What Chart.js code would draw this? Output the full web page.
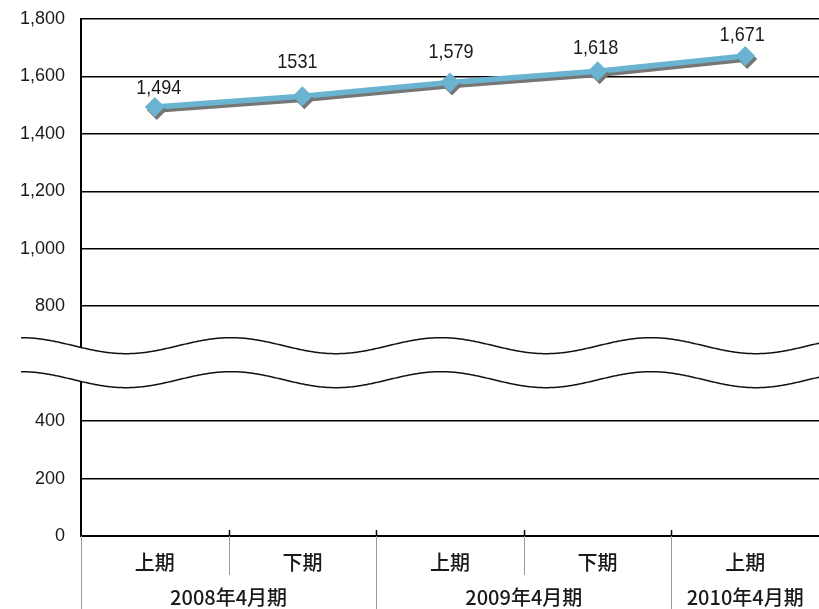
<!DOCTYPE html>
<html>
<head>
<meta charset="utf-8">
<script src="https://cdn.jsdelivr.net/npm/chart.js@4/dist/chart.umd.min.js"></script>
<style>
  html, body { margin: 0; padding: 0; background: #ffffff; }
  canvas { display: block; }
</style>
</head>
<body>
<canvas id="chart" width="819" height="609"></canvas>
<script>
// Half-year periods and the fiscal years they belong to
const halves = ['上期', '下期', '上期', '下期', '上期'];
const fiscalYears = ['2008年4月期', '2009年4月期', '2010年4月期'];
const fiscalSpans = [2, 2, 1];

// Series values and the text printed above each point
const staffCount = [1494, 1531, 1579, 1618, 1671];
const pointLabels = ['1,494', '1531', '1,579', '1,618', '1,671'];

// Value axis ticks; the axis is broken at breakValue
const yTicks = [0, 200, 400, 600, 800, 1000, 1200, 1400, 1600, 1800];
const breakValue = 600;

const LINE_BLUE = '#6ab4d1';
const TEXT = '#1a1a1a';
const NUM_FONT = "'Liberation Sans', Arial, sans-serif";
const LABEL_FONT = "'Liberation Sans', Arial, sans-serif";
const JP_FONT = "'Noto Sans CJK JP', 'Noto Sans', sans-serif";

// Drop shadow under the line and markers
const lineShadow = {
  id: 'lineShadow',
  beforeDatasetsDraw(chart) {
    const c = chart.ctx;
    c.save();
    c.shadowColor = '#767676';
    c.shadowOffsetX = 2;
    c.shadowOffsetY = 3;
    c.shadowBlur = 0.5;
  },
  afterDatasetsDraw(chart) {
    chart.ctx.restore();
  }
};

// Two-row category axis: half-year labels and fiscal-year groups with dividers
const groupedAxis = {
  id: 'groupedAxis',
  afterDraw(chart) {
    const c = chart.ctx;
    const x = chart.scales.x;
    const area = chart.chartArea;
    const step = x.getPixelForValue(1) - x.getPixelForValue(0);
    const edge = i => x.getPixelForValue(i) - step / 2;

    const groupEdges = new Set([0]);
    let acc = 0;
    fiscalSpans.forEach(s => { acc += s; groupEdges.add(acc); });

    c.save();
    for (let k = 0; k < halves.length; k++) {
      const px = Math.round(edge(k)) + 0.5;
      c.strokeStyle = '#9a9a9a';
      c.lineWidth = 1;
      c.beginPath();
      c.moveTo(px, area.bottom);
      c.lineTo(px, groupEdges.has(k) ? chart.height : area.bottom + 39);
      c.stroke();
      if (k > 0) {
        c.strokeStyle = '#000000';
        c.lineWidth = 1.5;
        c.beginPath();
        c.moveTo(px, area.bottom - 6);
        c.lineTo(px, area.bottom);
        c.stroke();
      }
    }

    c.fillStyle = TEXT;
    c.textAlign = 'center';
    c.textBaseline = 'middle';
    c.font = '500 20px ' + JP_FONT;
    halves.forEach((h, i) => {
      c.fillText(h, x.getPixelForValue(i), area.bottom + 26);
    });

    let start = 0;
    fiscalYears.forEach((fy, g) => {
      const end = start + fiscalSpans[g];
      const cx = (edge(start) + edge(end)) / 2;
      c.fillText(fy, cx, area.bottom + 61);
      start = end;
    });
    c.restore();
  }
};

// Value labels above the markers, set in a slightly condensed face
const valueLabels = {
  id: 'valueLabels',
  afterDraw(chart, args, opts) {
    const c = chart.ctx;
    const meta = chart.getDatasetMeta(0);
    c.save();
    c.fillStyle = TEXT;
    c.textAlign = 'center';
    c.textBaseline = 'middle';
    c.font = opts.font;
    meta.data.forEach((pt, i) => {
      const [dx, dy] = opts.offsets[i];
      c.save();
      c.translate(pt.x + dx, pt.y + dy);
      c.scale(opts.condense, 1);
      c.fillText(pointLabels[i], 0, 0);
      c.restore();
    });
    c.restore();
  }
};

// Wavy band marking the break in the value axis
const axisBreak = {
  id: 'axisBreak',
  afterDraw(chart, args, opts) {
    const c = chart.ctx;
    const yc = chart.scales.y.getPixelForValue(breakValue) - 1;
    const x0 = opts.startX, x1 = chart.width + 2;
    const wave = (xx, off) => yc + off - opts.amplitude * Math.cos(2 * Math.PI * (xx - x0) / opts.period);

    c.save();
    c.beginPath();
    for (let xx = x0; xx <= x1; xx += 1) c.lineTo(xx, wave(xx, -opts.halfGap));
    for (let xx = x1; xx >= x0; xx -= 1) c.lineTo(xx, wave(xx, opts.halfGap));
    c.closePath();
    c.fillStyle = '#ffffff';
    c.fill();

    c.strokeStyle = '#111111';
    c.lineWidth = 1.5;
    [-opts.halfGap, opts.halfGap].forEach(off => {
      c.beginPath();
      for (let xx = x0; xx <= x1; xx += 1) {
        if (xx === x0) c.moveTo(xx, wave(xx, off)); else c.lineTo(xx, wave(xx, off));
      }
      c.stroke();
    });
    c.restore();
  }
};

new Chart(document.getElementById('chart'), {
  type: 'line',
  data: {
    labels: halves,
    datasets: [{
      data: staffCount,
      borderColor: LINE_BLUE,
      backgroundColor: LINE_BLUE,
      borderWidth: 5.5,
      tension: 0,
      pointStyle: 'rectRot',
      pointRadius: 10,
      pointBackgroundColor: LINE_BLUE,
      pointBorderColor: LINE_BLUE,
      pointBorderWidth: 0,
      clip: false
    }]
  },
  options: {
    responsive: false,
    animation: false,
    devicePixelRatio: 1,
    events: [],
    layout: { autoPadding: false, padding: { top: 19, right: 0, left: 0, bottom: 0 } },
    plugins: {
      legend: { display: false },
      tooltip: { enabled: false },
      valueLabels: {
        font: '21px ' + LABEL_FONT,
        condense: 0.86,
        offsets: [[4, -19], [-5, -34], [1, -30], [-2, -23], [-3, -21]]
      },
      axisBreak: { startX: 21, amplitude: 8, halfGap: 17, period: 210 }
    },
    scales: {
      x: {
        type: 'category',
        offset: true,
        grid: { display: false, drawTicks: false },
        border: { display: true, color: '#000000', width: 2 },
        ticks: { display: false },
        afterFit(scale) { scale.height = 73; }
      },
      y: {
        min: yTicks[0],
        max: yTicks[yTicks.length - 1],
        afterBuildTicks(scale) { scale.ticks = yTicks.map(v => ({ value: v })); },
        grid: { color: '#000000', lineWidth: 1.6, drawTicks: false },
        border: { display: true, color: '#000000', width: 2 },
        ticks: {
          padding: 16,
          color: TEXT,
          font: { family: NUM_FONT, size: 18 },
          callback: v => v.toLocaleString('en-US')
        },
        afterFit(scale) {
          scale.width = 81;
          scale.paddingTop = 0;
          scale.paddingBottom = 0;
        }
      }
    }
  },
  plugins: [lineShadow, groupedAxis, valueLabels, axisBreak]
});
</script>
</body>
</html>
